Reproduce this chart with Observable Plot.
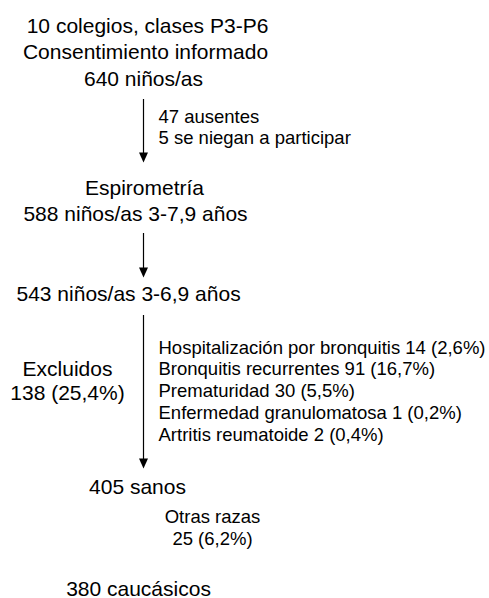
<!DOCTYPE html>
<html>
<head>
<meta charset="utf-8">
<script src="https://cdn.jsdelivr.net/npm/d3@7"></script>
<script src="https://cdn.jsdelivr.net/npm/@observablehq/plot@0.6"></script>
<style>
  html, body { margin: 0; padding: 0; background: #fff; }
  #chart svg { display: block; }
</style>
</head>
<body>
<div id="chart"></div>
<script>
// ---- Data (text of each flowchart step) ----
const header = ["10 colegios, clases P3-P6", "Consentimiento informado", "640 niños/as"];
const losses = ["47 ausentes", "5 se niegan a participar"];
const spirometry = ["Espirometría", "588 niños/as 3-7,9 años"];
const ageSelected = ["543 niños/as 3-6,9 años"];
const excludedTotal = ["Excluidos", "138 (25,4%)"];
const exclusionReasons = [
  "Hospitalización por bronquitis 14 (2,6%)",
  "Bronquitis recurrentes 91 (16,7%)",
  "Prematuridad 30 (5,5%)",
  "Enfermedad granulomatosa 1 (0,2%)",
  "Artritis reumatoide 2 (0,4%)"
];
const healthy = ["405 sanos"];
const otherRaces = ["Otras razas", "25 (6,2%)"];
const finalSample = ["380 caucásicos"];

// ---- Layout (separate from data) ----
const W = 489, H = 598;
const big = 21, small = 18.5;
const blocks = [
  {lines: header,           xs: [147, 145, 143], y: 32,  step: 26.5, anchor: "middle", size: big},
  {lines: losses,           xs: [158],           y: 122, step: 21.3, anchor: "start",  size: small},
  {lines: spirometry,       xs: [144, 135],      y: 194, step: 26,   anchor: "middle", size: big},
  {lines: ageSelected,      xs: [16],            y: 300, step: 26,   anchor: "start",  size: big},
  {lines: excludedTotal,    xs: [67],            y: 375, step: 24.5, anchor: "middle", size: big},
  {lines: exclusionReasons, xs: [158],           y: 353, step: 21.8, anchor: "start",  size: small},
  {lines: healthy,          xs: [137],           y: 493, step: 26,   anchor: "middle", size: big},
  {lines: otherRaces,       xs: [212],           y: 522, step: 22,   anchor: "middle", size: small},
  {lines: finalSample,      xs: [138],           y: 595, step: 26,   anchor: "middle", size: big}
];
const arrowX = 143;
const arrows = [[99, 162], [233, 277], [315, 468]];

const textRows = blocks.flatMap(b => b.lines.map((t, i) => ({
  text: t,
  x: b.xs[Math.min(i, b.xs.length - 1)],
  y: b.y + i * b.step,
  anchor: b.anchor,
  size: b.size
})));
const arrowRows = arrows.map(([y1, y2]) => ({x: arrowX, y1, y2}));

// filled arrowhead with tip at the anchor point
const arrowHead = {
  draw(context) {
    const w = 4.5, h = 10;
    context.moveTo(0, 0);
    context.lineTo(-w, -h);
    context.lineTo(w, -h);
    context.closePath();
  }
};

const marks = [
  Plot.ruleX(arrowRows, {x: "x", y1: "y1", y2: d => d.y2 - 8, stroke: "#000", strokeWidth: 1.2}),
  Plot.dot(arrowRows, {x: "x", y: "y2", symbol: arrowHead, fill: "#000", stroke: "none", r: 5})
];
for (const anchor of ["start", "middle"]) {
  for (const size of [big, small]) {
    const rows = textRows.filter(d => d.anchor === anchor && d.size === size);
    if (!rows.length) continue;
    marks.push(Plot.text(rows, {
      x: "x", y: "y", text: "text",
      textAnchor: anchor, lineAnchor: "bottom",
      fontSize: size, fill: "#000"
    }));
  }
}

const chart = Plot.plot({
  width: W, height: H,
  margin: 0,
  x: {domain: [0, W], range: [0, W], axis: null},
  y: {domain: [0, H], range: [0, H], axis: null},
  style: {fontFamily: "'Liberation Sans', Arial, Helvetica, sans-serif", background: "#fff", color: "#000", overflow: "visible"},
  marks
});
document.getElementById("chart").appendChild(chart);
</script>
</body>
</html>
